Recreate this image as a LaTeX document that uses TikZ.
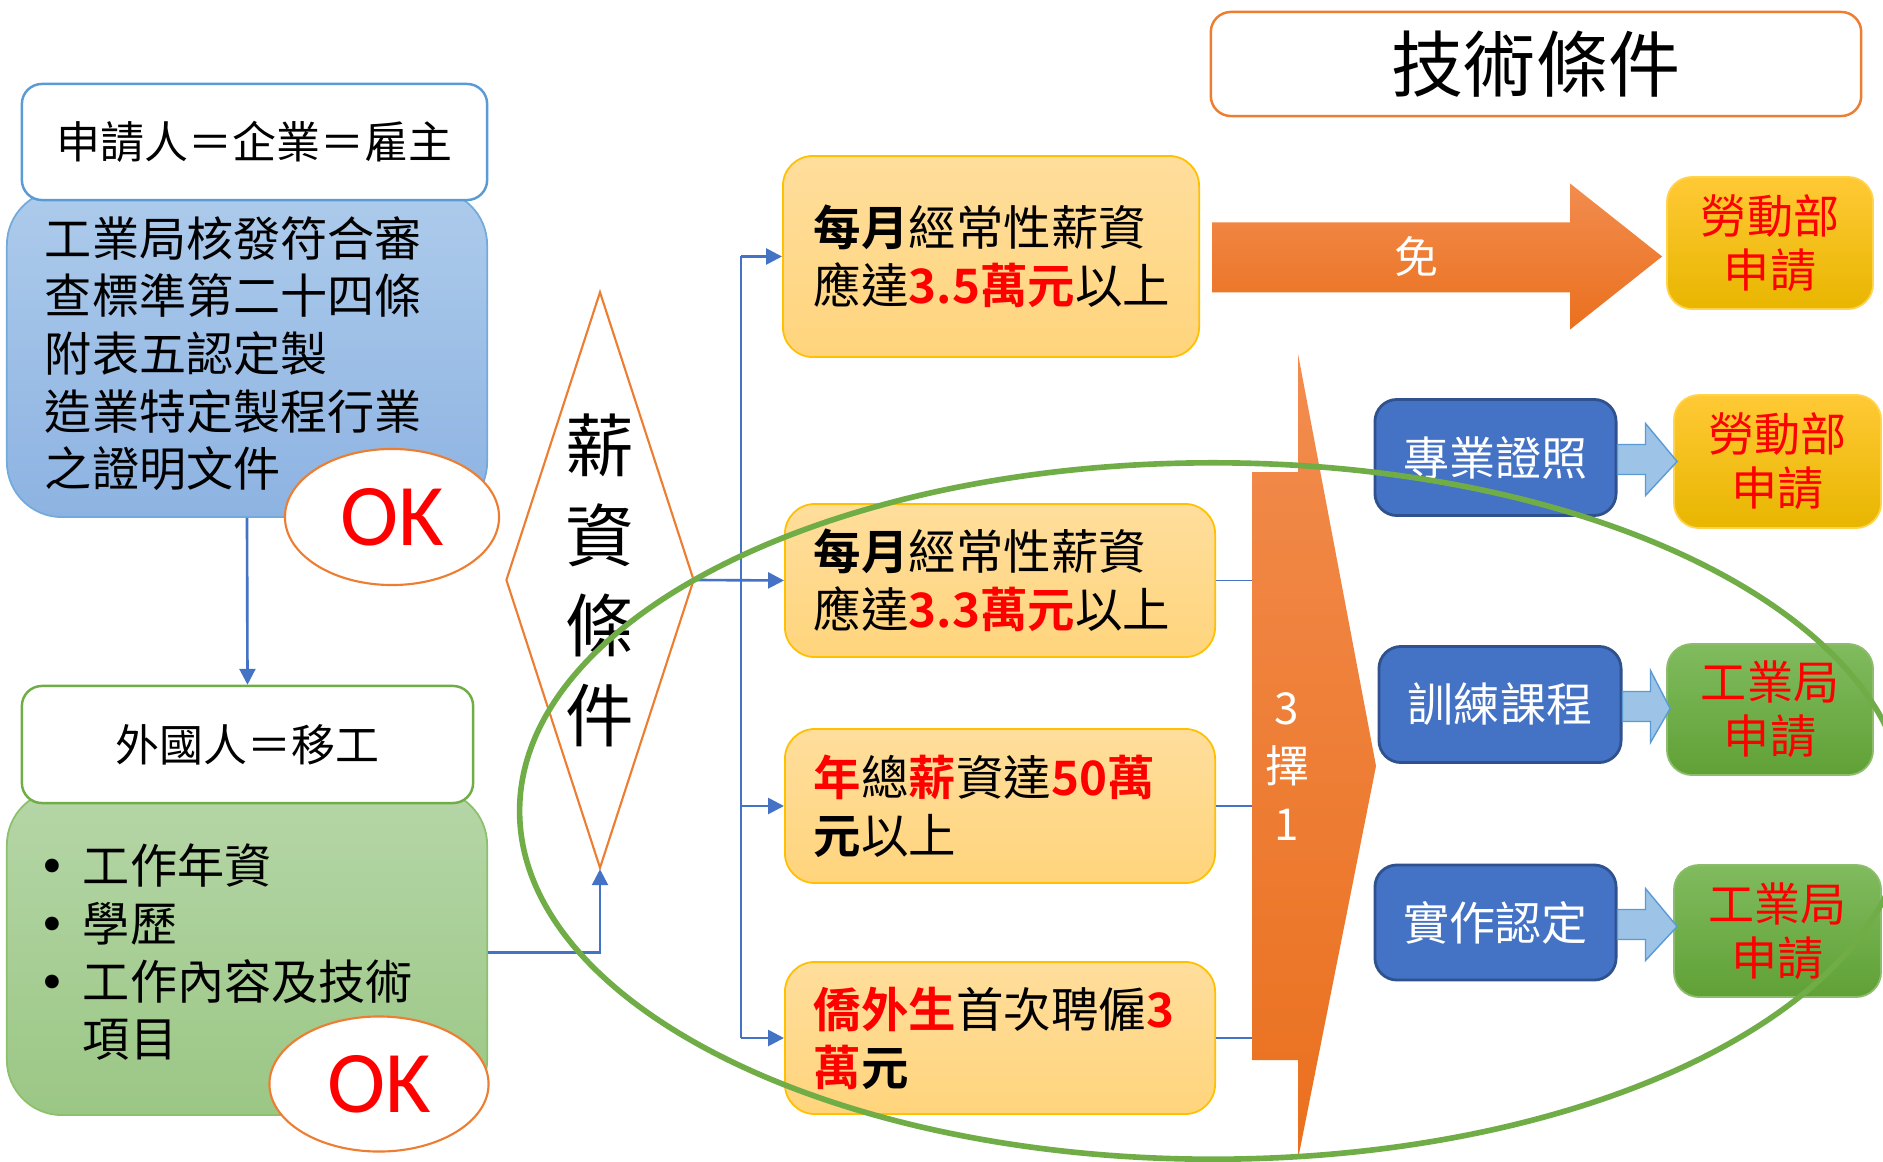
\documentclass[tikz,border=0pt]{standalone}
\usepackage{fontspec}
\setmainfont{Noto Sans CJK TC}[BoldFont={Noto Sans CJK TC Bold}]
\newfontfamily\okfont{Carlito}
\newfontfamily\puntofont{DejaVu Sans}
\usepackage{tikz}
\usetikzlibrary{calc,shapes.geometric,arrows.meta}

\definecolor{azul}{HTML}{4472C4}
\definecolor{azulborde}{HTML}{2F528F}
\definecolor{celeste}{HTML}{5B9BD5}
\definecolor{celesteclaro}{HTML}{9DC3E6}
\definecolor{cielosup}{HTML}{ADCBEB}
\definecolor{cieloinf}{HTML}{8DB3E2}
\definecolor{pastosup}{HTML}{B5D6A7}
\definecolor{pastoinf}{HTML}{9BC785}
\definecolor{pastoborde}{HTML}{8DC06C}
\definecolor{naranja}{HTML}{ED7D31}
\definecolor{naranjasup}{HTML}{F28C4E}
\definecolor{naranjainf}{HTML}{EA701E}
\definecolor{verde}{HTML}{70AD47}
\definecolor{verdesup}{HTML}{80BB5E}
\definecolor{verdeinf}{HTML}{60A136}
\definecolor{oro}{HTML}{FFC000}
\definecolor{orosup}{HTML}{FFC935}
\definecolor{oroinf}{HTML}{E8B600}
\definecolor{crema}{HTML}{FFDE9C}
\definecolor{cremainf}{HTML}{FFD47C}
\definecolor{rojo}{HTML}{FF0000}

\newcommand{\rojob}[1]{\textcolor{rojo}{\textbf{#1}}}
\newcommand{\punto}{\makebox[0.38cm][l]{\hspace{-0.06cm}{\puntofont •}}}

\tikzset{
  encabezado/.style={draw, fill=white, line width=0.7pt, rounded corners=0.2cm, inner sep=0pt,
    font=\fontsize{12.5}{15}\selectfont},
  cuerpo/.style={line width=0.5pt, rounded corners=0.55cm, inner xsep=0.38cm, inner ysep=0pt,
    text width=4.04cm, align=left, minimum width=4.80cm, font=\fontsize{13.4}{16.4}\selectfont},
  okelipse/.style={ellipse, draw=naranja, fill=white, line width=0.6pt, inner sep=0pt, text=rojo,
    font=\okfont\fontsize{25}{25}\selectfont},
  rombo/.style={diamond, draw=naranja, fill=white, line width=0.6pt, inner sep=0pt, aspect=0.33,
    minimum width=1.88cm, minimum height=5.76cm, align=center, font=\fontsize{19.5}{25.6}\selectfont},
  salariocaja/.style={draw=oro, line width=0.5pt, rounded corners=0.3cm, top color=crema,
    bottom color=cremainf, inner xsep=0.29cm, inner ysep=0pt, text width=3.72cm, align=left,
    minimum width=4.30cm, font=\fontsize{13.5}{16.5}\selectfont},
  tramite/.style={draw=oro!70, line width=0.5pt, rounded corners=0.25cm, text=rojo, align=center,
    inner sep=0pt, minimum width=2.06cm, minimum height=1.32cm, font=\fontsize{13.1}{15.4}\selectfont},
  tecnica/.style={fill=azul, draw=azulborde, line width=0.8pt, rounded corners=0.22cm, text=white,
    inner sep=0pt, minimum width=2.41cm, minimum height=1.16cm, font=\fontsize{13.1}{15.4}\selectfont},
  blanco/.style={text=white, align=center, inner sep=0pt, font=\fontsize{12.5}{16.5}\selectfont},
  conector/.style={azul, line width=0.75pt, -{Triangle[length=4.5pt,width=4.5pt]}},
  linea/.style={azul, line width=0.75pt},
  fino/.style={azul, line width=0.35pt},
  flechaclara/.style={draw=celeste, line width=0.4pt, fill=celesteclaro},
  flechagrande/.style={top color=naranjasup, bottom color=naranjainf}
}

\begin{document}
\begin{tikzpicture}[x=0.01cm, y=-0.01cm]
% Fondo
\fill[white] (0,0) rectangle (1883,1161);
\useasboundingbox (0,0) rectangle (1883,1161);

% Solicitante
\node[cuerpo, draw=celeste!85, top color=cielosup, bottom color=cieloinf, minimum height=3.27cm]
  (empcuerpo) at (247,353.5) {工業局核發符合審\\查標準第二十四條\\附表五認定製\\造業特定製程行業\\之證明文件};
\node[encabezado, draw=celeste, minimum width=4.65cm, minimum height=1.16cm] (emp) at (254.5,142) {申請人＝企業＝雇主};
\node[okelipse, minimum width=2.14cm, minimum height=1.36cm] (ok1) at (392,517) {OK};

% Trabajador extranjero
\node[cuerpo, draw=pastoborde, top color=pastosup, bottom color=pastoinf, minimum height=3.25cm]
  (migcuerpo) at (247,952.5) {\punto 工作年資\\\punto 學歷\\\punto 工作內容及技術\\\hspace*{0.38cm}項目};
\node[encabezado, draw=verde, minimum width=4.51cm, minimum height=1.17cm] (mig) at (247.5,744.5) {外國人＝移工};
\node[okelipse, minimum width=2.19cm, minimum height=1.35cm] (ok2) at (379,1084) {OK};

% Flecha solicitante -> trabajador
\draw[conector] (empcuerpo.south) -- (mig.north);

% Condicion salarial
\node[rombo] (salario) at (600,580) {薪\\資\\條\\件};
\draw[conector] (migcuerpo.east) -| (salario.south);

% Opciones de salario
\node[salariocaja, inner xsep=0.31cm, text width=3.54cm, minimum width=4.16cm, minimum height=2.01cm]
  (salA) at (991,256.5) {\textbf{每月}經常性薪資\\應達\rojob{3.5萬元}以上};
\node[salariocaja, minimum height=1.53cm] (salB) at (1000,580.5) {\textbf{每月}經常性薪資\\應達\rojob{3.3萬元}以上};
\node[salariocaja, minimum height=1.54cm] (salC) at (1000,806) {\rojob{年}總\rojob{薪}資達\rojob{50萬}\\\textbf{元}以上};
\node[salariocaja, minimum height=1.52cm] (salD) at (1000,1038) {\rojob{僑外生}首次聘僱\rojob{3}\\\rojob{萬}\textbf{元}};

% Bus de conexion
\coordinate (bus) at (741,580);
\draw[conector] (salario.east) -- (salB.west);
\draw[linea] (bus |- salA.west) -- (bus |- salD.west);
\foreach \s in {salA,salC,salD}
  \draw[conector] (bus |- \s.west) -- (\s.west);

% Titulo
\node[encabezado, draw=naranja, minimum width=6.50cm, minimum height=1.04cm,
  font=\fontsize{20.5}{20.5}\selectfont] (tecnico) at (1536,64) {技術條件};

% Tramites
\node[tramite, top color=orosup, bottom color=oroinf] (lab1) at (1770,243) {勞動部\\申請};
\node[tramite, top color=orosup, bottom color=oroinf, minimum width=2.07cm, minimum height=1.33cm] (lab2) at (1777.5,461.5) {勞動部\\申請};
\node[tramite, draw=verde!80, top color=verdesup, bottom color=verdeinf, minimum height=1.31cm] (ind1) at (1770,709.5) {工業局\\申請};
\node[tramite, draw=verde!80, top color=verdesup, bottom color=verdeinf, minimum width=2.07cm] (ind2) at (1777.5,931) {工業局\\申請};

% Flecha exento
\shade[flechagrande] ($(salA.east)+(12,-34)$) -- ($(lab1.west |- salA.east)+(-96,-34)$) -- ++(0,-39)
  -- ($(lab1.west |- salA.east)+(-4,0)$) -- ++(-92,73) -- ++(0,-37) -- ($(salA.east)+(12,36)$) -- cycle;
\node[blanco] (exento) at ($(salA.east)+(216,0)$) {免};

% Condiciones tecnicas
\node[tecnica] (cert) at (1495.5,457.5) {專業證照};
\node[tecnica, minimum width=2.42cm] (curso) at (1500,704.5) {訓練課程};
\node[tecnica, minimum height=1.15cm] (prac) at (1495.5,922.5) {實作認定};
\foreach \a/\b in {cert/lab2,curso/ind1,prac/ind2}
  \filldraw[flechaclara] ($(\a.east)+(0,-13)$) -- ++(28,0) -- ++(0,-21) -- ($(\b.west |- \a.east)+(4,4)$)
    -- ($(\a.east)+(28,38)$) -- ++(0,-21) -- ++(-28,0) -- cycle;

% Flecha 3 elegir 1
\coordinate (elegir) at (1252,766);
\shade[flechagrande] ($(elegir)+(0,-294)$) -- ($(elegir)+(46,-294)$) -- ($(elegir)+(46,-412)$)
  -- ($(elegir)+(124,0)$) -- ($(elegir)+(46,393)$) -- ($(elegir)+(46,294)$) -- ($(elegir)+(0,294)$) -- cycle;
\node[blanco] (eleccion) at (1287,767) {3\\擇\\1};
\foreach \s in {salB,salC,salD}
  \draw[fino] (\s.east) -- (\s.east -| elegir);

% Elipse verde
\draw[verde, line width=1.6pt] (1213,811) ellipse [x radius=6.93cm, y radius=3.48cm];
\end{tikzpicture}
\end{document}
